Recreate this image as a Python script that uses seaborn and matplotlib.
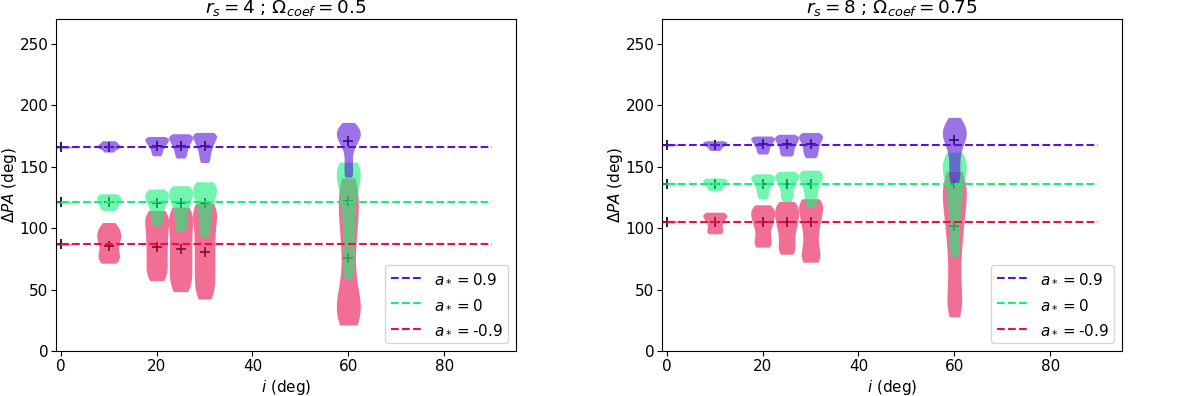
import numpy as np
import pandas as pd
import matplotlib
matplotlib.use('Agg')
import matplotlib.pyplot as plt
import seaborn as sns

plt.rcParams["font.size"] = 11

# ==== Data ====
incl = [0, 10, 20, 25, 30, 60]
line_span = [0, 90]
spins = ["0.9", "0", "-0.9"]
colors = ["#5a14d8", "#14f07a", "#e8104e"]
titles = [r"$r_s = 4$ ; $\Omega_{coef} = 0.5$", r"$r_s = 8$ ; $\Omega_{coef} = 0.75$"]

# left panel: r_s = 4, Omega_coef = 0.5
left_ref = [166, 121, 86.9]
left_p09 = [
    [165.0, 165.6, 166.0, 166.4, 167.0],
    [161.8, 163.5, 164.8, 165.6, 166.3, 167, 167.8, 168.8, 170, 171],
    [158.8, 161, 163, 165, 166.5, 167.8, 169, 170.1, 171.1, 172, 172.9, 173.7, 174.5],
    [156.9, 159.3, 161.6, 163.7, 165.6, 167.3, 168.8, 170.2, 171.5, 172.7, 173.8, 174.8, 175.8, 176.7],
    [153.3, 156.2, 159, 161.6, 163.9, 166, 167.8, 169.5, 171, 172.4, 173.7, 174.9, 176, 177, 177.8],
    [141.4, 145, 150, 155, 160, 165, 168, 170.4, 172, 174, 175.5, 177, 178.5, 180, 181.5, 183.5, 185.9],
]
left_p00 = [
    [120.0, 120.6, 121.0, 121.4, 122.0],
    [114.3, 116, 117.7, 119.2, 120.6, 121.9, 123.1, 124.3, 125.5, 126.7, 127.9],
    [101.8, 105.5, 109.2, 112.8, 116, 118.8, 121.2, 123.2, 125, 126.7, 128.3, 129.8, 131.7],
    [97.7, 101.8, 106, 110.2, 114, 117.3, 120.2, 122.7, 125, 127.1, 129.1, 131, 132.8, 134.4],
    [92.6, 97.5, 102.5, 107.5, 112, 116, 119.5, 122.5, 125.2, 127.7, 130, 132.2, 134.3, 136, 137.6],
    [59, 66, 74, 82, 90, 98, 106, 113, 120, 126, 132, 137, 141, 144, 146.5, 149, 151, 153.6],
]
left_m09 = [
    [85.9, 86.5, 86.9, 87.3, 87.9],
    [71.4, 73.5, 75.8, 78, 80.3, 83, 86, 88.5, 90.7, 92.8, 94.8, 96.8, 99, 101.5, 104.5],
    [57.3, 61, 65, 69, 73, 77.3, 81.5, 85.5, 89.5, 93.5, 97.5, 101.3, 105, 108.3, 111.4, 114.3],
    [48.3, 52.5, 57, 61.5, 66, 70.5, 75, 79.5, 84, 88.5, 93, 97.5, 102, 106.3, 110.3, 114, 117],
    [42.3, 47, 52, 57, 62, 67, 72, 77, 82, 87, 92, 97, 102, 106.5, 110.8, 114.7, 118, 120.2],
    [21.2, 24, 28, 32, 36, 40, 45, 51, 59, 68, 77, 86, 94, 101, 107, 113, 119, 125, 131, 136, 140.6],
]
left_med = [
    [166, 166, 167, 167, 167, 170.4],
    [121, 121.3, 120, 120, 120, 122],
    [86.9, 85.8, 84.4, 82.8, 80.9, 76],
]

# right panel: r_s = 8, Omega_coef = 0.75
right_ref = [167.8, 136.2, 105.3]
right_p09 = [
    [166.8, 167.4, 167.8, 168.2, 168.8],
    [163.1, 164.5, 165.8, 166.8, 167.6, 168.4, 169.1, 169.8, 170.4, 171],
    [160.2, 162, 163.8, 165.5, 167, 168.3, 169.5, 170.6, 171.6, 172.5, 173.4, 174.1, 174.8],
    [158.6, 160.5, 162.5, 164.5, 166.3, 168, 169.5, 170.8, 172, 173.1, 174.2, 175.3, 176.3],
    [157.2, 159.5, 161.8, 164, 166, 168, 169.8, 171.4, 172.8, 174.1, 175.4, 176.6, 177.7],
    [137, 141, 146, 151, 156, 161, 165, 168.5, 171, 173.5, 175.5, 177.5, 179.5, 181.5, 184, 187, 190],
]
right_p00 = [
    [135.2, 135.8, 136.2, 136.6, 137.2],
    [130.5, 132, 133.5, 134.8, 136, 137, 138, 138.9, 139.8, 140.6],
    [123.8, 126.5, 129, 131.5, 133.5, 135.5, 137, 138.5, 139.7, 140.8, 141.9, 143, 144.1],
    [121.6, 124.5, 127.5, 130.5, 133, 135.5, 137.5, 139.3, 140.8, 142.2, 143.5, 144.8, 146],
    [117, 120.5, 124, 127.5, 131, 134, 136.5, 138.8, 140.8, 142.5, 144.1, 145.6, 147.1],
    [76.8, 83, 90, 97, 104, 111, 117, 122, 127, 131.5, 136, 140, 143.5, 146.5, 149, 151.5, 154, 156.5, 159, 161.6],
]
right_m09 = [
    [104.3, 104.9, 105.3, 105.7, 106.3],
    [95.3, 97, 99, 101.5, 104, 106, 107.8, 109.3, 110.6, 111.8, 112.9],
    [84.5, 86.5, 89, 92, 95.5, 99, 102, 104.5, 106.8, 109, 111, 113, 115, 117, 118.9],
    [78.7, 81.5, 85, 89, 93, 97, 100.5, 103.5, 106.3, 109, 111.6, 114.2, 116.8, 119.3, 121.6],
    [72.2, 74.5, 77.5, 81, 85.5, 90.5, 95.5, 100, 104, 107.5, 111, 114, 117, 120, 122, 123.8],
    [27.9, 33, 38, 44, 51, 59, 67, 75, 82, 89, 95, 101, 106, 111, 116, 120, 124, 128, 132, 135.5, 139, 142.5, 146],
]
right_med = [
    [167.8, 167.5, 168, 168.5, 168.5, 171.8],
    [136.2, 136, 136, 136, 136, 136],
    [105.3, 105, 105, 105, 105, 102],
]


def to_long(samples):
    rows = []
    for inc, vals in zip(incl, samples):
        for v in vals:
            rows.append({"i": inc, "dpa": v})
    return pd.DataFrame(rows)


def draw_panel(ax, series, meds, refs, title):
    # medians first, so the violins tint them
    for med in meds:
        ax.plot(incl, med, "+", color="k", ms=6.5, mew=1.2, zorder=0.5)
    # draw order: -0.9, 0, 0.9 (purple on top)
    for k in [2, 1, 0]:
        sns.violinplot(
            data=to_long(series[k]), x="i", y="dpa", native_scale=True,
            cut=0, density_norm="width", inner=None, width=1.0,
            color=colors[k], saturation=1, alpha=0.6, linewidth=0,
            bw_adjust=0.6, ax=ax
        )
    for k in range(3):
        ax.plot(line_span, [refs[k], refs[k]], "--", color=colors[k],
                lw=1.5, label=r"$a_* = $" + spins[k], zorder=3)
    ax.set_xlim(-1, 95)
    ax.set_ylim(0, 270)
    ax.set_xticks([0, 20, 40, 60, 80])
    ax.set_yticks([0, 50, 100, 150, 200, 250])
    ax.tick_params(pad=2)
    ax.set_xlabel(r"$i$ (deg)", labelpad=3)
    ax.set_ylabel(r"$\Delta PA$ (deg)", labelpad=0.5)
    ax.set_title(title, fontsize=13.2, pad=4)
    ax.legend(loc="lower right", fontsize=11, labelspacing=0.7)


fig = plt.figure(figsize=(12, 3.96), dpi=100)
ax1 = fig.add_axes([0.0467, 0.1136, 0.3833, 0.8384])
ax2 = fig.add_axes([0.5517, 0.1136, 0.3833, 0.8384])

draw_panel(ax1, [left_p09, left_p00, left_m09], left_med, left_ref, titles[0])
draw_panel(ax2, [right_p09, right_p00, right_m09], right_med, right_ref, titles[1])

fig.savefig("out.png", dpi=100)
plt.close(fig)
